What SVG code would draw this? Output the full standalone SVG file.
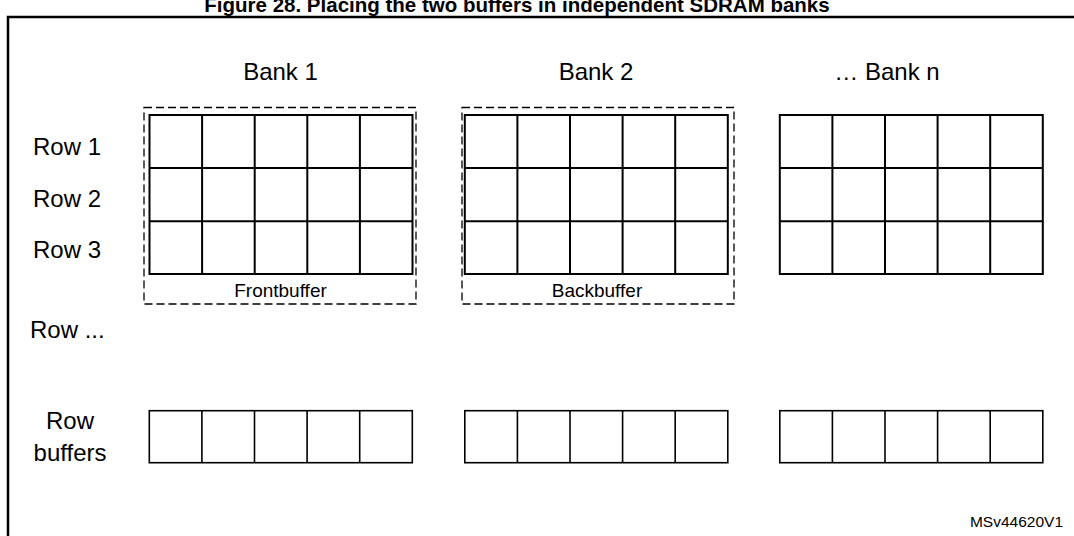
<svg xmlns="http://www.w3.org/2000/svg" width="1074" height="536" viewBox="0 0 1074 536">
<style>
  text { font-family: "Liberation Sans", Arial, sans-serif; fill: #000; }
  .title { font-size: 20.5px; font-weight: bold; }
  .lbl { font-size: 24px; }
  .sm { font-size: 19px; }
  .id { font-size: 15.5px; }
  .grid { fill: none; stroke: #000; stroke-width: 2; }
  .dash { fill: none; stroke: #000; stroke-width: 1.3; stroke-dasharray: 8 4; }
  .frame { fill: none; stroke: #000; stroke-width: 2.5; }
</style>
<defs>
  <g id="bank">
    <rect class="grid" x="0" y="0" width="263" height="159"/>
    <path class="grid" d="M52.6 0V159M105.2 0V159M157.8 0V159M210.4 0V159M0 53H263M0 106.3H263"/>
  </g>
  <g id="rowbuf">
    <rect class="grid" x="0" y="0" width="263" height="52" style="stroke-width:1.6"/>
    <path class="grid" style="stroke-width:1.6" d="M52.6 0V52M105.2 0V52M157.8 0V52M210.4 0V52"/>
  </g>
</defs>
<rect width="1074" height="536" fill="#fff"/>
<text class="title" x="517" y="12" text-anchor="middle">Figure 28. Placing the two buffers in independent SDRAM banks</text>
<rect class="frame" x="8" y="17" width="1090" height="560"/>

<g id="labels">
  <text class="lbl" x="280.5" y="80" text-anchor="middle">Bank 1</text>
  <text class="lbl" x="596" y="80" text-anchor="middle">Bank 2</text>
  <text class="lbl" x="887" y="80" text-anchor="middle">… Bank n</text>
  <text class="lbl" x="33" y="155">Row 1</text>
  <text class="lbl" x="33" y="207">Row 2</text>
  <text class="lbl" x="33" y="258">Row 3</text>
  <text class="lbl" x="30" y="338">Row ...</text>
  <text class="lbl" x="70" y="429" text-anchor="middle">Row</text>
  <text class="lbl" x="70" y="461" text-anchor="middle">buffers</text>
  <text class="id" x="1063" y="527" text-anchor="end">MSv44620V1</text>
</g>

<g id="bank1">
  <rect class="dash" x="144" y="107.5" width="272" height="196.5"/>
  <use href="#bank" x="149.5" y="115"/>
  <text class="sm" x="280.5" y="297" text-anchor="middle">Frontbuffer</text>
</g>
<g id="bank2">
  <rect class="dash" x="462" y="107.5" width="272" height="196.5"/>
  <use href="#bank" x="464.8" y="115"/>
  <text class="sm" x="597" y="297" text-anchor="middle">Backbuffer</text>
</g>
<g id="bankn">
  <use href="#bank" x="779.8" y="115"/>
</g>
<g id="rowbuffer1"><use href="#rowbuf" x="149.3" y="410.7"/></g>
<g id="rowbuffer2"><use href="#rowbuf" x="464.8" y="410.7"/></g>
<g id="rowbuffern"><use href="#rowbuf" x="779.8" y="410.7"/></g>
<g id="connectors"></g>
</svg>
